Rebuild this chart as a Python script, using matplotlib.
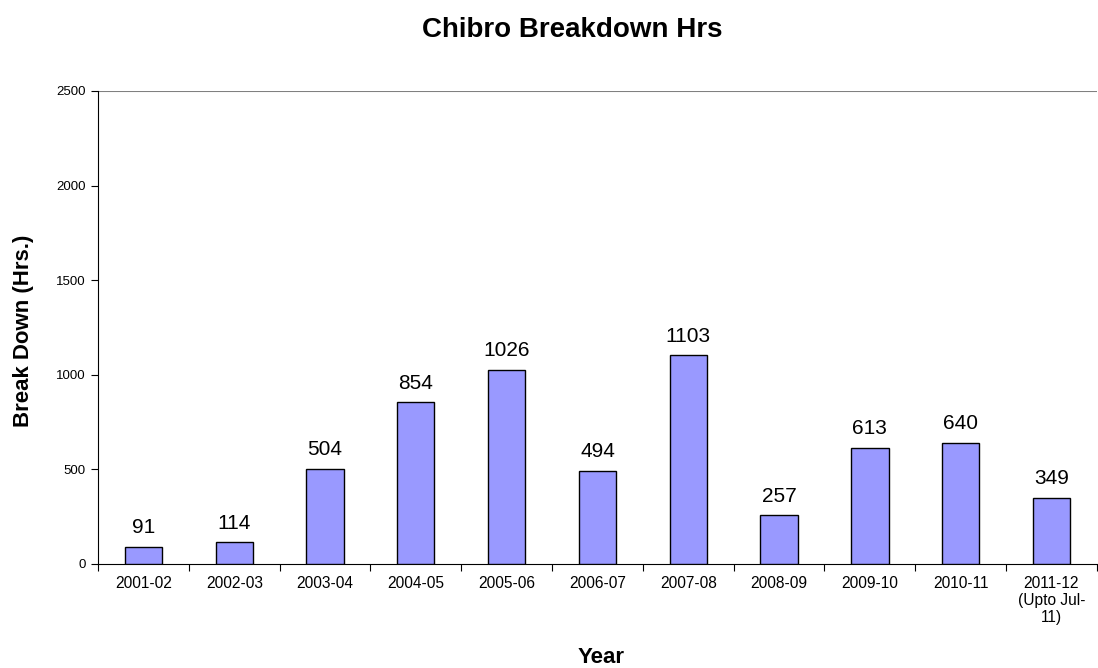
import matplotlib.pyplot as plt
import numpy as np

plt.rcParams['font.family'] = ['Liberation Sans', 'DejaVu Sans']

years = ['2001-02', '2002-03', '2003-04', '2004-05', '2005-06', '2006-07',
         '2007-08', '2008-09', '2009-10', '2010-11', '2011-12\n(Upto Jul-\n11)']
hours = [91, 114, 504, 854, 1026, 494, 1103, 257, 613, 640, 349]
y_ticks = [0, 500, 1000, 1500, 2000, 2500]

fig = plt.figure(figsize=(10.98, 6.68), dpi=100)
ax = fig.add_axes([0.0893, 0.1557, 0.9097, 0.7081])

x = np.arange(len(years))
ax.bar(x, hours, width=0.41, color='#9999ff', edgecolor='black', linewidth=1.0, zorder=3)

for xi, h in zip(x, hours):
    ax.annotate(str(h), (xi, h), xytext=(0, 7), textcoords='offset points',
                ha='center', va='bottom', fontsize=15)

ax.set_xlim(-0.5, len(years) - 0.5)
ax.set_ylim(0, 2500)
ax.set_yticks(y_ticks)
ax.tick_params(axis='y', labelsize=9.5, length=5, direction='out', pad=4)
ax.axhline(2500, color='#808080', linewidth=1.5, zorder=1)

# ticks between categories, labels centred under bars
ax.set_xticks(np.arange(len(years) + 1) - 0.5)
ax.set_xticklabels([])
ax.set_xticks(x, minor=True)
ax.set_xticklabels(years, minor=True, fontsize=11.2, linespacing=1.15)
ax.tick_params(axis='x', which='major', length=5, direction='out')
ax.tick_params(axis='x', which='minor', length=0, pad=9)

for side in ['top', 'right']:
    ax.spines[side].set_visible(False)

ax.set_xlabel('Year', fontsize=16, fontweight='bold')
ax.xaxis.set_label_coords(0.5035, -0.175)
ax.set_ylabel('Break Down (Hrs.)', fontsize=16, fontweight='bold')
ax.yaxis.set_label_coords(-0.064, 0.493)
fig.suptitle('Chibro Breakdown Hrs', fontsize=20, fontweight='bold', x=0.521, y=0.975)

fig.savefig('out.png', dpi=100)
